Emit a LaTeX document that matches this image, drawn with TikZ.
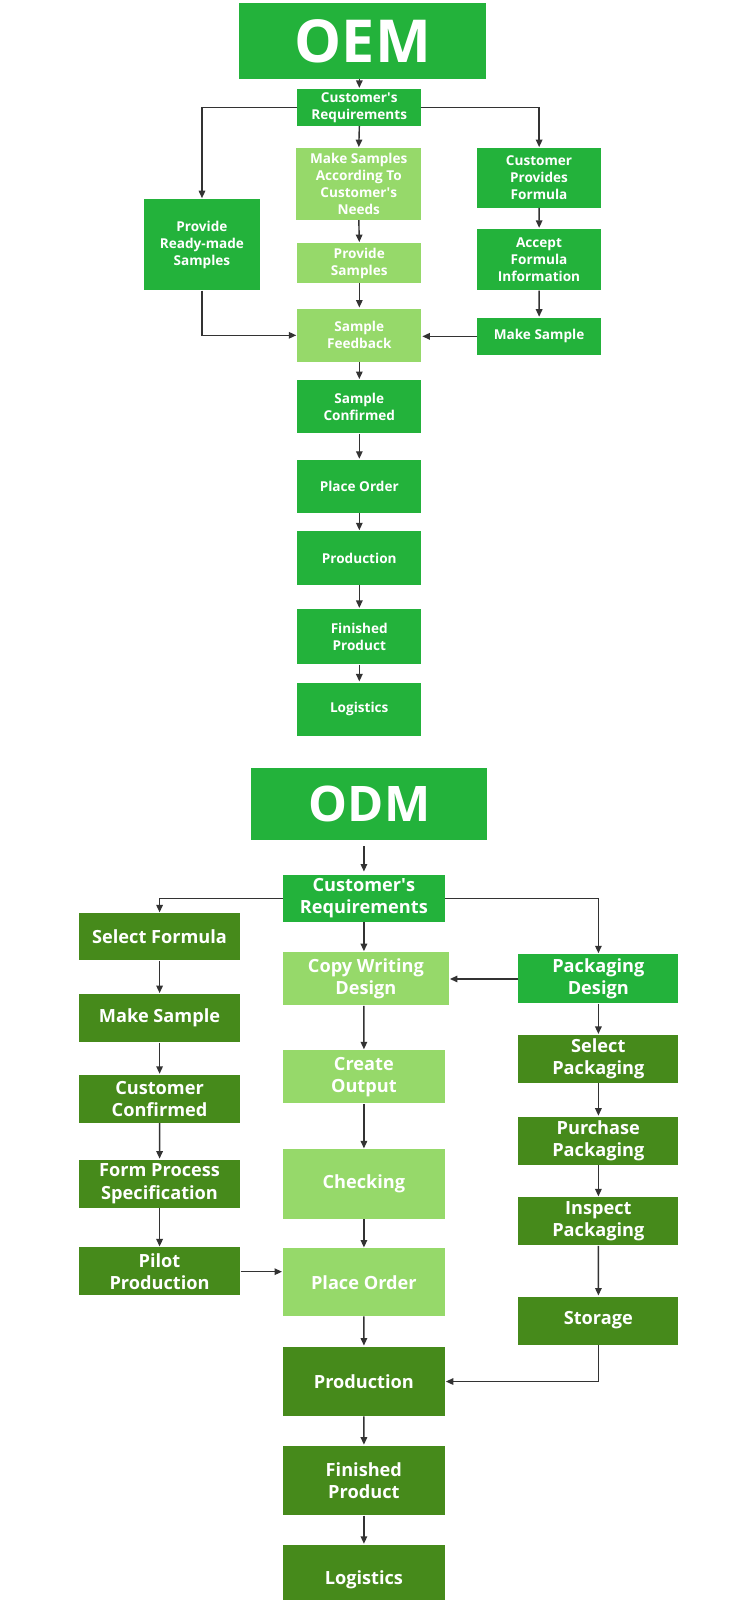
\documentclass[tikz,border=0pt]{standalone}
\usepackage{fontspec}
\setmainfont{Open Sans}
\usetikzlibrary{arrows.meta}
\definecolor{gmid}{RGB}{35,178,59}
\definecolor{glight}{RGB}{150,217,106}
\definecolor{gdark}{RGB}{70,138,27}
\definecolor{ln}{RGB}{51,51,51}
\tikzset{
  box/.style={draw=none, inner sep=0pt, align=center, text=white, anchor=north west,
    font=\bfseries\fontsize{13.3}{16.8}\selectfont},
  bigbox/.style={box, font=\bfseries\fontsize{17.8}{21.8}\selectfont},
  titlebox/.style={box, font=\bfseries\fontsize{58}{62}\selectfont},
  mid/.style={fill=gmid}, lite/.style={fill=glight}, dark/.style={fill=gdark},
  conn/.style={draw=ln, line width=1.4pt, -{Triangle[length=7.5pt,width=6.5pt]}, shorten >=1pt},
}
\newcommand{\aps}{\textquotesingle}
\begin{document}
\begin{tikzpicture}[x=1pt,y=-1pt]
\useasboundingbox[fill=white] (0,0) rectangle (750,1600);
\begin{scope}[scale=1.0215, transform shape]
% ---------------- OEM ----------------
\node[titlebox,mid,minimum width=242,minimum height=74] (oem) at (234,3) {OEM};
\node[box,mid,minimum width=121,minimum height=36] (cr1) at (291,87) {Customer\aps s\\Requirements};
\node[box,lite,minimum width=122,minimum height=70] (ms) at (290,145) {Make Samples\\According To\\Customer\aps s\\Needs};
\node[box,lite,minimum width=121,minimum height=39] (ps) at (291,238) {Provide\\Samples};
\node[box,lite,minimum width=121,minimum height=52] (sf) at (291,302) {Sample\\Feedback};
\node[box,mid,minimum width=121,minimum height=52] (sc) at (291,372) {Sample\\Confirmed};
\node[box,mid,minimum width=121,minimum height=52] (po1) at (291,450) {Place Order};
\node[box,mid,minimum width=121,minimum height=52] (pr1) at (291,520) {Production};
\node[box,mid,minimum width=121,minimum height=54] (fp1) at (291,596) {Finished\\Product};
\node[box,mid,minimum width=121,minimum height=52] (lg1) at (291,668) {Logistics};
\node[box,mid,minimum width=113,minimum height=89] (prm) at (141,195) {Provide\\Ready-made\\Samples};
\node[box,mid,minimum width=121,minimum height=58] (cpf) at (467,145) {Customer\\Provides\\Formula};
\node[box,mid,minimum width=121,minimum height=60] (afi) at (467,224) {Accept\\Formula\\Information};
\node[box,mid,minimum width=121,minimum height=36] (msk) at (467,311) {Make Sample};

\draw[conn] (cr1.north |- oem.south) -- (cr1.north);
\draw[conn] (cr1.west) -| (prm.north);
\draw[conn] (cr1.east) -| (cpf.north);
\draw[conn] (cr1.south) -- (ms.north);
\draw[conn] (ms.south) -- (ps.north);
\draw[conn] (ps.south) -- (sf.north);
\draw[conn] (prm.south) |- (sf.west);
\draw[conn] (msk.west) -- (msk.west -| sf.east);
\draw[conn] (cpf.south) -- (afi.north);
\draw[conn] (afi.south) -- (msk.north);
\draw[conn] (sf.south) -- (sc.north);
\draw[conn] (sc.south) -- (po1.north);
\draw[conn] (po1.south) -- (pr1.north);
\draw[conn] (pr1.south) -- (fp1.north);
\draw[conn] (fp1.south) -- (lg1.north);
% ---------------- ODM ----------------
\node[titlebox,mid,minimum width=231,minimum height=70,font=\bfseries\fontsize{48}{54}\selectfont] (odm) at (246,752) {ODM};
\node[bigbox,mid,minimum width=158,minimum height=46] (cr2) at (277,856) {Customer\aps s\\Requirements};
\node[bigbox,dark,minimum width=158,minimum height=46] (sfm) at (77,894) {Select Formula};
\node[bigbox,dark,minimum width=158,minimum height=47] (mk2) at (77,973) {Make Sample};
\node[bigbox,dark,minimum width=158,minimum height=47] (cc) at (77,1052) {Customer\\Confirmed};
\node[bigbox,dark,minimum width=158,minimum height=47] (fps) at (77,1135) {Form Process\\Specification};
\node[bigbox,dark,minimum width=158,minimum height=47] (pp) at (77,1221) {Pilot\\Production};
\node[bigbox,lite,minimum width=162,minimum height=52] (cwd) at (277,932) {Copy Writing\\Design};
\node[bigbox,lite,minimum width=158,minimum height=52] (co) at (277,1028) {Create\\Output};
\node[bigbox,lite,minimum width=158,minimum height=68] (chk) at (277,1125) {Checking};
\node[bigbox,lite,minimum width=158,minimum height=66] (po2) at (277,1222) {Place Order};
\node[bigbox,dark,minimum width=158,minimum height=68] (pr2) at (277,1318) {Production};
\node[bigbox,dark,minimum width=158,minimum height=68] (fp2) at (277,1415) {Finished\\Product};
\node[bigbox,dark,minimum width=158,minimum height=68] (lg2) at (277,1512) {Logistics};
\node[bigbox,mid,minimum width=157,minimum height=48] (pd) at (507,934) {Packaging\\Design};
\node[bigbox,dark,minimum width=157,minimum height=47] (sp) at (507,1013) {Select\\Packaging};
\node[bigbox,dark,minimum width=157,minimum height=47] (pup) at (507,1093) {Purchase\\Packaging};
\node[bigbox,dark,minimum width=157,minimum height=47] (ip) at (507,1172) {Inspect\\Packaging};
\node[bigbox,dark,minimum width=157,minimum height=47] (st) at (507,1269) {Storage};

\draw[conn, shorten <=6pt, shorten >=3pt] (cr2.north |- odm.south) -- (cr2.north);
\draw[conn] (cr2.west) -| (sfm.north);
\draw[conn] (cr2.east) -| (pd.north);
\draw[conn] (cr2.south) -- (cr2.south |- cwd.north);
\draw[conn] (pd.west) -- (pd.west -| cwd.east);
\draw[conn] (cr2.south |- cwd.south) -- (co.north);
\draw[conn] (co.south) -- (chk.north);
\draw[conn] (chk.south) -- (po2.north);
\draw[conn] (po2.south) -- (pr2.north);
\draw[conn] (pr2.south) -- (fp2.north);
\draw[conn] (fp2.south) -- (lg2.north);
\draw[conn] (sfm.south) -- (mk2.north);
\draw[conn] (mk2.south) -- (cc.north);
\draw[conn] (cc.south) -- (fps.north);
\draw[conn] (fps.south) -- (pp.north);
\draw[conn] (pp.east) -- (pp.east -| po2.west);
\draw[conn] (pd.south) -- (sp.north);
\draw[conn] (sp.south) -- (pup.north);
\draw[conn] (pup.south) -- (ip.north);
\draw[conn] (ip.south) -- (st.north);
\draw[conn] (st.south) |- (pr2.east);
\end{scope}
\end{tikzpicture}
\end{document}
